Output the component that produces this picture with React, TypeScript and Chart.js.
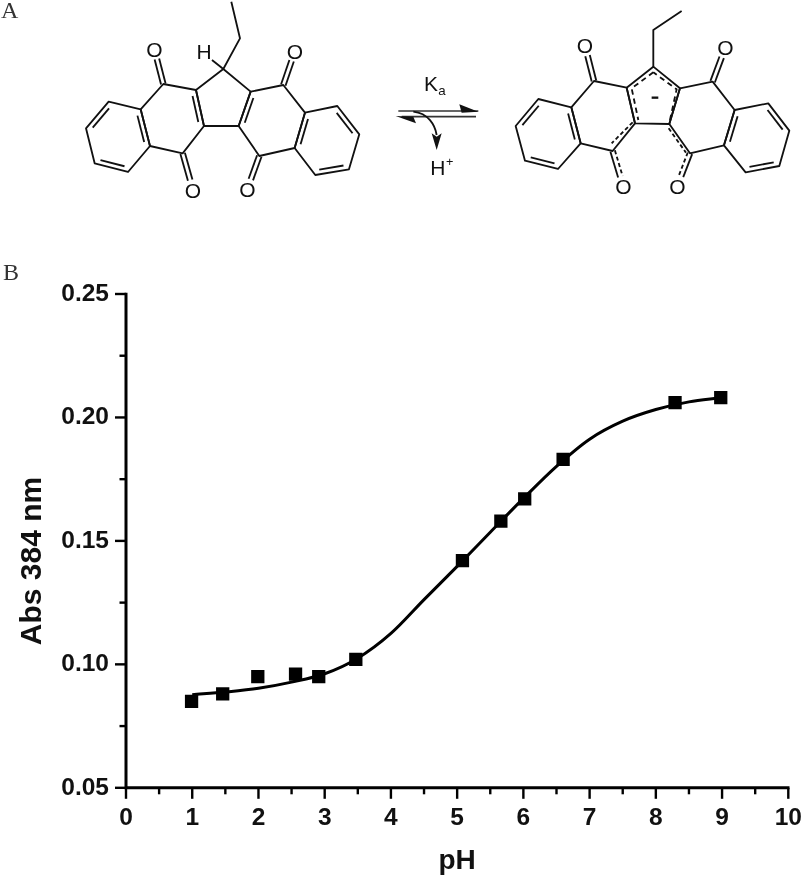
import React, { useEffect, useRef } from "react";
import { Chart, registerables } from "chart.js";

Chart.register(...registerables);

const measuredPH = [0.99, 1.46, 1.99, 2.56, 2.91, 3.47, 5.08, 5.66, 6.02, 6.6, 8.29, 8.98];
const measuredAbs = [0.085, 0.088, 0.095, 0.096, 0.095, 0.102, 0.142, 0.158, 0.167, 0.183, 0.206, 0.208];
const fitPH = [1, 1.5, 2, 2.5, 3, 3.5, 4, 4.5, 5, 5.5, 6, 6.5, 7, 7.5, 8, 8.5, 8.98];
const fitAbs = [0.0877, 0.0888, 0.0903, 0.0928, 0.0962, 0.1025, 0.1125, 0.1262, 0.1397, 0.1535, 0.1672, 0.1802, 0.1912, 0.1985, 0.2032, 0.2063, 0.208];
const xTitle = "pH";
const yTitle = "Abs 384 nm";
const FONT = '"Liberation Sans", Arial, sans-serif';

type P = [number, number];

function ringPath(pts: P[]) {
  return "M" + pts.map((p) => p.join(" ")).join("L") + "Z";
}

function inner(a: P, b: P, c: P, d = 14, trim = 0.14) {
  // second line of a double bond, displaced toward ring centre c
  const dx = b[0] - a[0], dy = b[1] - a[1];
  const len = Math.hypot(dx, dy);
  let nx = -dy / len, ny = dx / len;
  const mx = (a[0] + b[0]) / 2, my = (a[1] + b[1]) / 2;
  if ((c[0] - mx) * nx + (c[1] - my) * ny < 0) { nx = -nx; ny = -ny; }
  const x1 = a[0] + dx * trim + nx * d, y1 = a[1] + dy * trim + ny * d;
  const x2 = b[0] - dx * trim + nx * d, y2 = b[1] - dy * trim + ny * d;
  return { x1, y1, x2, y2 };
}

function centre(pts: P[]): P {
  return [pts.reduce((s, p) => s + p[0], 0) / pts.length, pts.reduce((s, p) => s + p[1], 0) / pts.length];
}

function Rings({ rings }: { rings: { pts: P[]; doubles: number[] }[] }) {
  return (
    <>
      {rings.map((r, i) => {
        const c = centre(r.pts);
        return (
          <g key={i}>
            <path d={ringPath(r.pts)} />
            {r.doubles.map((k) => (
              <line key={k} {...inner(r.pts[k], r.pts[(k + 1) % r.pts.length], c)} />
            ))}
          </g>
        );
      })}
    </>
  );
}

function Carbonyl({ from, o, dashed }: { from: P; o: P; dashed?: number }) {
  const dx = o[0] - from[0], dy = o[1] - from[1];
  const len = Math.hypot(dx, dy);
  const ux = dx / len, uy = dy / len;
  const nx = -uy * 7, ny = ux * 7;
  const end = len - 31;
  return (
    <g>
      <line
        x1={from[0] + nx}
        y1={from[1] + ny}
        x2={from[0] + ux * end + nx}
        y2={from[1] + uy * end + ny}
        strokeDasharray={dashed === 1 ? "12 8" : undefined}
      />
      <line
        x1={from[0] - nx}
        y1={from[1] - ny}
        x2={from[0] + ux * end - nx}
        y2={from[1] + uy * end - ny}
        strokeDasharray={dashed === -1 ? "12 8" : undefined}
      />
      <text x={o[0]} y={o[1] + 23} textAnchor="middle" fontSize={63} stroke="none" fill="#111" fontFamily={FONT}>O</text>
    </g>
  );
}

function Structures() {
  const L5: P[] = [[670, 207], [752, 275], [716, 378], [612, 378], [588, 270]];
  const L6a: P[] = [[588, 270], [490, 252], [422, 328], [450, 438], [548, 460], [612, 378]];
  const L6b: P[] = [[422, 328], [326, 305], [258, 385], [284, 490], [384, 516], [450, 438]];
  const R6a: P[] = [[752, 275], [850, 255], [915, 338], [884, 444], [778, 468], [716, 378]];
  const R6b: P[] = [[915, 338], [1012, 318], [1078, 403], [1047, 508], [946, 525], [884, 444]];

  const q5: P[] = [[760, 200], [840, 265], [808, 372], [705, 370], [680, 263]];
  const q6a: P[] = [[680, 263], [582, 243], [514, 322], [542, 430], [638, 453], [705, 370]];
  const q6b: P[] = [[514, 322], [415, 297], [347, 378], [375, 482], [474, 507], [542, 430]];
  const s6a: P[] = [[840, 265], [938, 245], [1004, 330], [972, 436], [870, 460], [808, 372]];
  const s6b: P[] = [[1004, 330], [1105, 310], [1168, 392], [1138, 498], [1037, 517], [972, 436]];

  return (
    <svg width={801} height={878} style={{ position: "absolute", left: 0, top: 0, pointerEvents: "none" }}>
      <text x={1} y={18} fontSize={24} fontFamily='"Liberation Serif", serif' fill="#333">A</text>
      <text x={3} y={280} fontSize={24} fontFamily='"Liberation Serif", serif' fill="#333">B</text>

      <g transform="scale(0.3333)" fill="none" stroke="#111" strokeWidth={5.5} strokeLinejoin="round">
        <path d="M694 5L720 115L670 207L636 180" />
        <text x={612} y={177} textAnchor="middle" fontSize={63} stroke="none" fill="#111" fontFamily={FONT}>H</text>
        <Rings rings={[
          { pts: L5, doubles: [] },
          { pts: L6a, doubles: [5] },
          { pts: L6b, doubles: [1, 3, 5] },
          { pts: R6a, doubles: [5] },
          { pts: R6b, doubles: [1, 3, 5] },
        ]} />
        <Carbonyl from={[490, 252]} o={[463, 147]} />
        <Carbonyl from={[548, 460]} o={[579, 570]} />
        <Carbonyl from={[850, 255]} o={[885, 153]} />
        <Carbonyl from={[778, 468]} o={[742, 568]} />
      </g>

      <g transform="translate(400 0) scale(0.3333)" fill="none" stroke="#111" strokeWidth={5.5} strokeLinejoin="round">
        <path d="M845 33L760 90L760 200" />
        <Rings rings={[
          { pts: q5, doubles: [] },
          { pts: q6a, doubles: [] },
          { pts: q6b, doubles: [1, 3, 5] },
          { pts: s6a, doubles: [] },
          { pts: s6b, doubles: [1, 3, 5] },
        ]} />
        <path d="M760 217L695 265L715 360M810 360L830 268L760 217" strokeDasharray="16 12" />
        <path d="M698 367L635 430M806 385L858 458" strokeDasharray="12 8" />
        <line x1={755} y1={293} x2={775} y2={293} strokeWidth={7} />
        <Carbonyl from={[582, 243]} o={[555, 137]} />
        <Carbonyl from={[638, 453]} o={[670, 560]} dashed={-1} />
        <Carbonyl from={[938, 245]} o={[976, 143]} />
        <Carbonyl from={[870, 460]} o={[832, 558]} dashed={1} />

        <text x={72} y={272} fontSize={63} stroke="none" fill="#111" fontFamily={FONT}>K</text>
        <text x={115} y={285} fontSize={40} stroke="none" fill="#111" fontFamily={FONT}>a</text>
        <text x={91} y={525} fontSize={63} stroke="none" fill="#111" fontFamily={FONT}>H</text>
        <text x={138} y={497} fontSize={38} stroke="none" fill="#111" fontFamily={FONT}>+</text>
        <line x1={-5} y1={333} x2={235} y2={333} stroke="#333" strokeWidth={5} />
        <line x1={5} y1={350} x2={228} y2={350} stroke="#333" strokeWidth={5} />
        <path d="M178 313L235 335L185 338Z" fill="#111" stroke="none" />
        <path d="M-13 348L48 370L40 350Z" fill="#111" stroke="none" />
        <path d="M40 335C85 340 105 375 110 405" />
        <path d="M95 400L110 450L125 400L110 410Z" fill="#111" stroke="none" />
      </g>
    </svg>
  );
}

const axisMarks = {
  id: "axisMarks",
  afterDatasetsDraw(chart: any) {
    const { ctx, chartArea, scales } = chart;
    ctx.save();
    ctx.strokeStyle = "#000";
    ctx.lineWidth = 2.4;
    ctx.lineCap = "butt";
    scales.x.ticks.forEach((t: any, i: number) => {
      const px = scales.x.getPixelForTick(i);
      const len = t.label === "" ? 6.5 : 11;
      ctx.beginPath();
      ctx.moveTo(px, chartArea.bottom);
      ctx.lineTo(px, chartArea.bottom + len);
      ctx.stroke();
    });
    scales.y.ticks.forEach((t: any, i: number) => {
      const py = scales.y.getPixelForTick(i);
      const len = t.label === "" ? 6.5 : 11;
      ctx.beginPath();
      ctx.moveTo(chartArea.left, py);
      ctx.lineTo(chartArea.left - len, py);
      ctx.stroke();
    });
    ctx.lineWidth = 3;
    ctx.beginPath();
    ctx.moveTo(chartArea.left, chartArea.top - 1.2);
    ctx.lineTo(chartArea.left, chartArea.bottom + 1.5);
    ctx.moveTo(chartArea.left - 1.5, chartArea.bottom);
    ctx.lineTo(chartArea.right + 1.2, chartArea.bottom);
    ctx.stroke();
    ctx.fillStyle = "#111";
    ctx.font = `bold 30px ${FONT}`;
    ctx.textAlign = "center";
    ctx.textBaseline = "middle";
    ctx.translate(33, 561);
    ctx.rotate(-Math.PI / 2);
    ctx.fillText(yTitle, 0, 0);
    ctx.restore();
  },
};

export default function App() {
  const ref = useRef<HTMLCanvasElement>(null);
  useEffect(() => {
    const chart = new Chart(ref.current!, {
      type: "scatter",
      data: {
        datasets: [
          {
            label: "Fit",
            type: "line",
            data: fitPH.map((x, i) => ({ x, y: fitAbs[i] })),
            borderColor: "#000",
            borderWidth: 3,
            pointRadius: 0,
            cubicInterpolationMode: "monotone",
            fill: false,
          },
          {
            label: "Abs 384 nm",
            data: measuredPH.map((x, i) => ({ x, y: measuredAbs[i] })),
            backgroundColor: "#000",
            borderWidth: 0,
            pointStyle: "rect",
            pointRadius: 9.4,
          },
        ],
      } as any,
      options: {
        animation: false,
        responsive: false,
        layout: { padding: { left: 0, right: 12.7, top: 294, bottom: 0 } },
        plugins: { legend: { display: false }, tooltip: { enabled: false } },
        scales: {
          x: {
            type: "linear",
            min: 0,
            max: 10,
            grid: { display: false },
            border: { display: false },
            title: {
              display: true,
              text: xTitle,
              color: "#111",
              font: { family: FONT, size: 28, weight: "bold" },
              padding: { top: 14, bottom: 0 },
            },
            ticks: {
              stepSize: 0.5,
              autoSkip: false,
              maxRotation: 0,
              padding: 8,
              color: "#111",
              font: { family: FONT, size: 24.5, weight: "bold" },
              callback: (v: any) => (Number.isInteger(v) ? String(v) : ""),
            },
            afterFit: (s: any) => {
              s.height = 90.2;
              s.paddingLeft = 0;
              s.paddingRight = 0;
            },
          },
          y: {
            type: "linear",
            min: 0.05,
            max: 0.25,
            grid: { display: false },
            border: { display: false },
            ticks: {
              stepSize: 0.025,
              autoSkip: false,
              padding: 9,
              color: "#111",
              font: { family: FONT, size: 24.5, weight: "bold" },
              callback: (v: any) => {
                const k = Math.round(Number(v) * 1000);
                return k % 50 === 0 ? Number(v).toFixed(2) : "";
              },
            },
            afterFit: (s: any) => {
              s.width = 126;
              s.paddingTop = 0;
              s.paddingBottom = 0;
            },
          },
        },
      } as any,
      plugins: [axisMarks],
    });
    return () => chart.destroy();
  }, []);
  return (
    <div style={{ position: "absolute", left: 0, top: 0, width: 801, height: 878, background: "#fff", overflow: "hidden" }}>
      <canvas ref={ref} width={801} height={878} style={{ display: "block" }} />
      <Structures />
    </div>
  );
}
